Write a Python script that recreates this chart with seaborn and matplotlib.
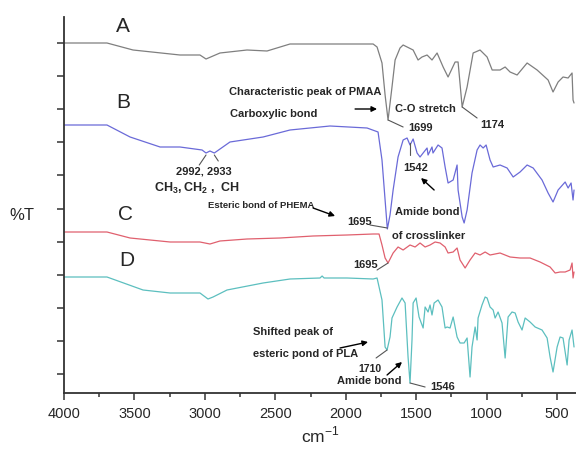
import matplotlib
matplotlib.use("Agg")
import matplotlib.pyplot as plt
import seaborn as sns
import pandas as pd

# ---- data (wavenumber cm^-1, offset transmittance in arbitrary units) ----
wn_A = [4000, 3695, 3510, 3177, 3035, 2992, 2893, 2701, 2559, 2396, 2112, 1806, 1778, 1743, 1721,
        1700, 1672, 1650, 1615, 1593, 1522, 1487, 1459, 1423, 1388, 1352, 1309, 1274, 1224, 1203,
        1174, 1139, 1096, 1047, 997, 961, 905, 869, 834, 784, 713, 642, 564, 529, 493, 458, 422,
        394, 387, 380]
t_A = [350, 350, 343, 338, 338, 334, 340, 343, 342, 349, 349, 349, 346, 330, 298,
       273, 306, 333, 345, 348, 343, 333, 336, 338, 333, 340, 326, 316, 331, 331,
       286, 306, 340, 343, 336, 323, 323, 326, 321, 318, 330, 323, 313, 301, 311, 316, 315,
       320, 293, 290]

wn_B = [4000, 3695, 3531, 3318, 3177, 3020, 2992, 2964, 2933, 2822, 2587, 2396, 2112, 1849, 1771,
        1743, 1721, 1705, 1686, 1664, 1629, 1593, 1565, 1544, 1522, 1494, 1473, 1451, 1423, 1416,
        1388, 1381, 1345, 1317, 1295, 1274, 1238, 1210, 1203, 1174, 1160, 1139, 1104, 1068, 1047,
        1025, 1004, 976, 954, 905, 855, 812, 763, 713, 670, 607, 564, 529, 493, 443, 422, 401,
        387, 380]
t_B = [268, 268, 256, 246, 246, 243, 240, 242, 240, 251, 256, 263, 267, 265, 261,
       233, 193, 164, 178, 203, 236, 253, 255, 248, 254, 240, 236, 240, 245, 238,
       246, 240, 248, 245, 226, 210, 213, 228, 203, 176, 170, 183, 220, 243, 248,
       245, 248, 233, 226, 228, 225, 216, 221, 228, 225, 213, 200, 191, 203, 211, 205, 210,
       193, 203]

wn_C = [4000, 3695, 3531, 3247, 3035, 2964, 2893, 2701, 2467, 2232, 1991, 1806, 1764, 1743, 1721,
        1700, 1664, 1629, 1593, 1544, 1508, 1473, 1437, 1402, 1366, 1331, 1295, 1274, 1238, 1210,
        1189, 1153, 1118, 1082, 1047, 1011, 976, 905, 834, 763, 692, 621, 550, 514, 479, 443,
        408, 394, 387, 380]
t_C = [161, 161, 155, 151, 151, 149, 152, 154, 155, 157, 158, 159, 159, 148, 135,
       130, 140, 146, 143, 148, 146, 150, 146, 148, 151, 150, 146, 140, 141, 145,
       133, 125, 133, 140, 138, 141, 138, 140, 136, 135, 135, 131, 126, 120, 121, 121,
       123, 130, 115, 121]

wn_D = [4000, 3695, 3439, 3247, 3035, 2978, 2942, 2843, 2587, 2396, 2183, 2168, 2154, 1991, 1806,
        1778, 1743, 1721, 1707, 1686, 1672, 1636, 1601, 1579, 1558, 1544, 1530, 1522, 1501, 1480,
        1451, 1437, 1416, 1402, 1388, 1373, 1345, 1317, 1295, 1281, 1260, 1238, 1210, 1189, 1160,
        1139, 1118, 1104, 1082, 1068, 1061, 1033, 1011, 997, 976, 954, 940, 919, 891, 869, 848,
        820, 798, 777, 749, 727, 692, 656, 607, 571, 550, 529, 500, 479, 458, 429, 415, 394, 380]
t_D = [116, 116, 103, 100, 100, 94, 96, 103, 110, 114, 115, 117, 115, 115, 114,
       115, 93, 46, 43, 56, 75, 86, 95, 90, 36, 10, 53, 90, 95, 76,
       65, 86, 81, 88, 78, 90, 93, 86, 65, 66, 65, 76, 56, 50, 50,
       55, 16, 46, 66, 53, 75, 88, 96, 95, 86, 83, 75, 81, 70, 35, 76,
       81, 80, 71, 63, 75, 71, 66, 63, 55, 36, 21, 46, 56, 55, 28, 53, 63, 46]

series = {"A": (wn_A, t_A), "B": (wn_B, t_B), "C": (wn_C, t_C), "D": (wn_D, t_D)}
colors = {"A": "#7f7f7f", "B": "#6a6ad8", "C": "#e0606e", "D": "#5cbfbf"}
letter_pos = {"A": (3581, 367), "B": (3581, 291), "C": (3567, 178), "D": (3553, 133)}

frames = []
for name, (w, t) in series.items():
    frames.append(pd.DataFrame({"wn": w, "T": t, "sample": name}))
df = pd.concat(frames, ignore_index=True)

sns.set_style("ticks")
plt.rcParams['font.family'] = ['Liberation Sans', 'DejaVu Sans']
plt.rcParams['mathtext.fontset'] = 'custom'
plt.rcParams['mathtext.rm'] = 'Liberation Sans'
plt.rcParams['mathtext.bf'] = 'Liberation Sans:bold'

fig = plt.figure(figsize=(5.76, 4.49), dpi=100)
ax = fig.add_axes([64/576, 1-393/449, 512/576, 376/449])

sns.lineplot(data=df, x="wn", y="T", hue="sample", palette=colors, estimator=None,
             sort=False, linewidth=0.9, legend=False, ax=ax)

ax.set_xlim(4000, 366)
ax.set_ylim(0, 376)
ax.set_xticks([4000, 3500, 3000, 2500, 2000, 1500, 1000, 500])
ax.set_xticks([3750, 3250, 2750, 2250, 1750, 1250, 750], minor=True)
ax.set_yticks([19 + 33.1*k for k in range(11)])
ax.set_yticklabels([])
ax.tick_params(axis='x', which='major', length=5, width=1.1, labelsize=10.5, pad=5, color='#333333')
ax.tick_params(axis='x', which='minor', length=3, width=1.1, color='#333333')
ax.tick_params(axis='y', which='major', length=5, width=1.1, color='#333333')
sns.despine(ax=ax)
for s in ['left', 'bottom']:
    ax.spines[s].set_linewidth(1.3)
    ax.spines[s].set_color('#333333')

ax.set_xlabel("cm$^{-1}$", fontsize=12.5, labelpad=3)
ax.set_ylabel("%T", rotation=0, fontsize=12, ha='center', va='center')
ax.yaxis.set_label_coords(-0.082, 0.473)

for name, (x, y) in letter_pos.items():
    ax.text(x, y, name, fontsize=15, ha='center', va='center')

bold = dict(fontsize=8, fontweight='bold', va='center')
ax.text(2829, 301, "Characteristic peak of PMAA", ha='left', **bold)
ax.text(2822, 279, "Carboxylic bond", ha='left', **bold)
ax.text(1650, 284, "C-O stretch", ha='left', **bold)
ax.text(1558, 265, "1699", ha='left', **bold)
ax.text(1047, 268, "1174", ha='left', **bold)
ax.text(3006, 221, "2992, 2933", ha='center', **bold)
ax.text(3056, 205, r"$\mathbf{CH_3,CH_2\ ,\ CH}$", ha='center', fontsize=9, va='center')
ax.text(2978, 187, "Esteric bond of PHEMA", ha='left', fontsize=6.8, fontweight='bold', va='center')
ax.text(1991, 171, "1695", ha='left', **bold)
ax.text(1650, 181, "Amide bond", ha='left', **bold)
ax.text(1672, 157, "of crosslinker", ha='left', **bold)
ax.text(1593, 225, "1542", ha='left', **bold)
ax.text(1948, 128, "1695", ha='left', **bold)
ax.text(2658, 61, "Shifted peak of", ha='left', **bold)
ax.text(2658, 39, "esteric pond of PLA", ha='left', **bold)
ax.text(1913, 24, "1710", ha='left', fontsize=7.5, fontweight='bold', va='center')
ax.text(2062, 12, "Amide bond", ha='left', **bold)
ax.text(1402, 6, "1546", ha='left', **bold)

# leader lines (gray)
leaders = [((1700, 273), (1593, 266)), ((1174, 286), (1068, 275)),
           ((2992, 238), (3040, 228)), ((2933, 238), (2905, 232)),
           ((1828, 168), (1705, 165)), ((1544, 250), (1544, 238)),
           ((1778, 123), (1700, 130)), ((1785, 35), (1707, 43)),
           ((1544, 10), (1437, 6))]
for (x0, y0), (x1, y1) in leaders:
    ax.plot([x0, x1], [y0, y1], color='#555555', linewidth=0.8)

# arrows (black)
arrows = [((1934, 284), (1778, 284)), ((2232, 185), (2076, 177)),
          ((1373, 203), (1466, 215)), ((2041, 45), (1842, 51)),
          ((1707, 18), (1601, 31))]
for (x0, y0), (x1, y1) in arrows:
    ax.annotate("", xy=(x1, y1), xytext=(x0, y0),
                arrowprops=dict(arrowstyle='-|>', color='black', lw=1.0,
                                mutation_scale=8, shrinkA=0, shrinkB=0))

fig.savefig("out.png", dpi=100)
